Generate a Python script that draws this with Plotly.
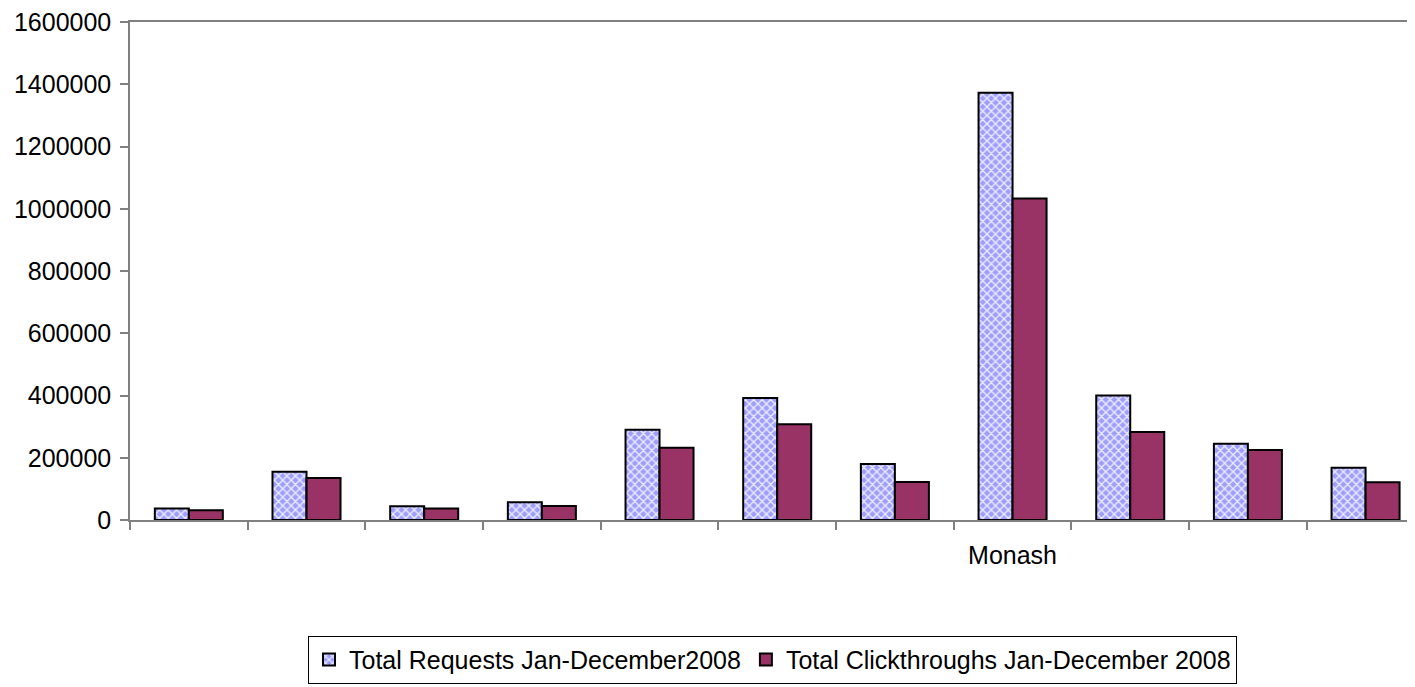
import plotly.graph_objects as go

# Data
categories = list(range(11))
tick_labels = ["", "", "", "", "", "", "", "Monash", "", "", ""]
requests_2008 = [37000, 155000, 44000, 57000, 290000, 392000, 180000, 1373000, 400000, 245000, 168000]
clickthroughs_2008 = [31000, 135000, 37000, 45000, 232000, 308000, 122000, 1033000, 283000, 225000, 121000]
y_ticks = [0, 200000, 400000, 600000, 800000, 1000000, 1200000, 1400000, 1600000]

series_names = ["Total Requests Jan-December2008", "Total Clickthroughs Jan-December 2008"]

FONT = "Liberation Sans, Arial, sans-serif"
FS = 25

fig = go.Figure()
fig.add_trace(go.Bar(
    x=categories, y=requests_2008, name=series_names[0],
    marker=dict(
        color="#A6A6FF",
        line=dict(color="black", width=2),
        pattern=dict(shape="x", fgcolor="#EDEDFF", bgcolor="#9E9EFF",
                     size=6, solidity=0.4, fillmode="replace"),
    ),
))
fig.add_trace(go.Bar(
    x=categories, y=clickthroughs_2008, name=series_names[1],
    marker=dict(color="#993366", line=dict(color="black", width=2)),
))

boundaries = [c - 0.5 for c in categories] + [categories[-1] + 0.5]

fig.update_layout(
    width=1407, height=679,
    margin=dict(l=122, r=0, t=14, b=167),
    paper_bgcolor="white", plot_bgcolor="white",
    barmode="group", bargap=0.422, bargroupgap=0,
    font=dict(family=FONT, size=FS, color="black"),
    showlegend=True,
    legend=dict(
        orientation="h", x=0.5, xanchor="center", y=-0.329, yanchor="bottom",
        bordercolor="black", borderwidth=1, bgcolor="white",
        font=dict(family=FONT, size=FS, color="black"),
        itemwidth=30, traceorder="normal",
    ),
    xaxis=dict(
        range=[-0.5, 10.42],
        tickmode="array", tickvals=categories, ticktext=tick_labels,
        ticks="", ticklen=0,
        showline=True, linecolor="#808080", linewidth=1.5,
        mirror=True,
        showgrid=False, zeroline=False,
        tickfont=dict(family=FONT, size=FS, color="black"),
        ticklabelstandoff=12,
        minor=dict(tickmode="array", tickvals=boundaries, ticks="outside",
                   ticklen=8, tickcolor="#808080", tickwidth=1.5, showgrid=False),
    ),
    yaxis=dict(
        range=[0, 1600000],
        tickmode="array", tickvals=y_ticks, ticktext=[str(v) for v in y_ticks],
        ticks="outside", ticklen=8, tickcolor="#808080", tickwidth=1.5,
        showline=True, linecolor="#808080", linewidth=1.5,
        showgrid=False, zeroline=False,
        tickfont=dict(family=FONT, size=FS, color="black"),
        ticklabelstandoff=4, ticklabeloverflow="allow",
    ),
)

fig.write_html("out.html")
